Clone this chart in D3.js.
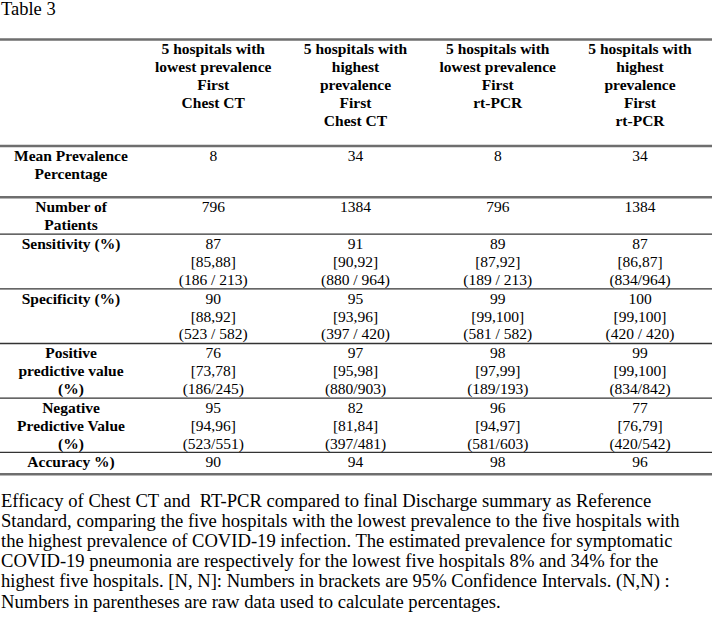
<!DOCTYPE html>
<html>
<head>
<meta charset="utf-8">
<script src="https://cdn.jsdelivr.net/npm/d3@7"></script>
<style>
  body { margin: 0; background: #fff; }
  svg text { font-family: "Liberation Serif", "Times New Roman", serif; fill: #000; white-space: pre; }
  .hdr, .lbl { font-weight: bold; font-size: 15.5px; }
  .val { font-size: 15.5px; }
  .cap { font-size: 18.6px; }
</style>
</head>
<body>
<div class="visHolder"></div>
<script>
// table content
var title = 'Table 3';

var colHeaders = [
    ['5 hospitals with', 'lowest prevalence', 'First', 'Chest CT'],
    ['5 hospitals with', 'highest', 'prevalence', 'First', 'Chest CT'],
    ['5 hospitals with', 'lowest prevalence', 'First', 'rt-PCR'],
    ['5 hospitals with', 'highest', 'prevalence', 'First', 'rt-PCR']
];

var rowLabels = [
    ['Mean Prevalence', 'Percentage'],
    ['Number of', 'Patients'],
    ['Sensitivity (%)'],
    ['Specificity (%)'],
    ['Positive', 'predictive value', '(%)'],
    ['Negative', 'Predictive Value', '(%)'],
    ['Accuracy %)']
];

var meanPrevalence = ['8', '34', '8', '34'];
var patients = ['796', '1384', '796', '1384'];
var sensitivity = [
    ['87', '[85,88]', '(186 / 213)'],
    ['91', '[90,92]', '(880 / 964)'],
    ['89', '[87,92]', '(189 / 213)'],
    ['87', '[86,87]', '(834/964)']
];
var specificity = [
    ['90', '[88,92]', '(523 / 582)'],
    ['95', '[93,96]', '(397 / 420)'],
    ['99', '[99,100]', '(581 / 582)'],
    ['100', '[99,100]', '(420 / 420)']
];
var ppv = [
    ['76', '[73,78]', '(186/245)'],
    ['97', '[95,98]', '(880/903)'],
    ['98', '[97,99]', '(189/193)'],
    ['99', '[99,100]', '(834/842)']
];
var npv = [
    ['95', '[94,96]', '(523/551)'],
    ['82', '[81,84]', '(397/481)'],
    ['96', '[94,97]', '(581/603)'],
    ['77', '[76,79]', '(420/542)']
];
var accuracy = ['90', '94', '98', '96'];

var caption = [
    'Efficacy of Chest CT and  RT-PCR compared to final Discharge summary as Reference',
    'Standard, comparing the five hospitals with the lowest prevalence to the five hospitals with',
    'the highest prevalence of COVID-19 infection. The estimated prevalence for symptomatic',
    'COVID-19 pneumonia are respectively for the lowest five hospitals 8% and 34% for the',
    'highest five hospitals. [N, N]: Numbers in brackets are 95% Confidence Intervals. (N,N) :',
    'Numbers in parentheses are raw data used to calculate percentages.'
];

// layout
var width = 712,
    height = 625,
    lineH = 17.9,
    tableTop = 39.5,
    baseOff = 14.8;

function lines(v) { return Array.isArray(v) ? v : [v]; }

var bodyRows = [meanPrevalence, patients, sensitivity, specificity, ppv, npv, accuracy].map(function (vals, i) {
    return { label: rowLabels[i], cells: vals.map(lines) };
});

// extra padding per row (header first), added to line count * lineH
var rowPad = [17, 15.5, 1, 1, 1, 1, 0.5, 4];

var allRows = [{ header: true, cells: colHeaders }].concat(bodyRows);
var y0 = tableTop;
allRows.forEach(function (r, i) {
    var n = d3.max(r.cells.concat(r.label ? [r.label] : []), function (c) { return c.length; });
    r.top = y0;
    r.h = n * lineH + rowPad[i];
    y0 += r.h;
});

var xCol = d3.scalePoint()
    .domain(d3.range(5))
    .range([71, 640]);

var svg = d3.select('.visHolder')
    .append('svg')
    .attr('width', width)
    .attr('height', height);

svg.append('text')
    .attr('x', 1)
    .attr('y', 15)
    .style('font-size', '18.5px')
    .text(title);

// rules
var ruleYs = allRows.map(function (r) { return r.top; }).concat([y0]);
svg.selectAll('line.rule')
    .data(ruleYs)
    .enter()
    .append('line')
    .attr('class', 'rule')
    .attr('x1', 0)
    .attr('x2', width)
    .attr('y1', function (d) { return d; })
    .attr('y2', function (d) { return d; })
    .attr('stroke', function (d, i) { return i <= 2 || i === ruleYs.length - 1 ? '#6e6e6e' : '#333'; })
    .attr('stroke-width', function (d, i) { return i <= 2 || i === ruleYs.length - 1 ? 2.4 : 1.3; });

function drawCell(g, textLines, x, top, cls) {
    g.append('text')
        .attr('class', cls)
        .attr('text-anchor', 'middle')
        .selectAll('tspan')
        .data(textLines)
        .enter()
        .append('tspan')
        .attr('x', x)
        .attr('y', function (d, j) { return top + baseOff + j * lineH; })
        .text(function (d) { return d; });
}

allRows.forEach(function (r) {
    var g = svg.append('g');
    if (r.label) drawCell(g, r.label, xCol(0), r.top, 'lbl');
    r.cells.forEach(function (c, j) {
        drawCell(g, c, xCol(j + 1), r.top, r.header ? 'hdr' : 'val');
    });
});

// caption
svg.append('text')
    .attr('class', 'cap')
    .selectAll('tspan')
    .data(caption)
    .enter()
    .append('tspan')
    .attr('x', 1)
    .attr('y', function (d, i) { return 506.5 + i * 20.2; })
    .text(function (d) { return d; });
</script>
</body>
</html>
